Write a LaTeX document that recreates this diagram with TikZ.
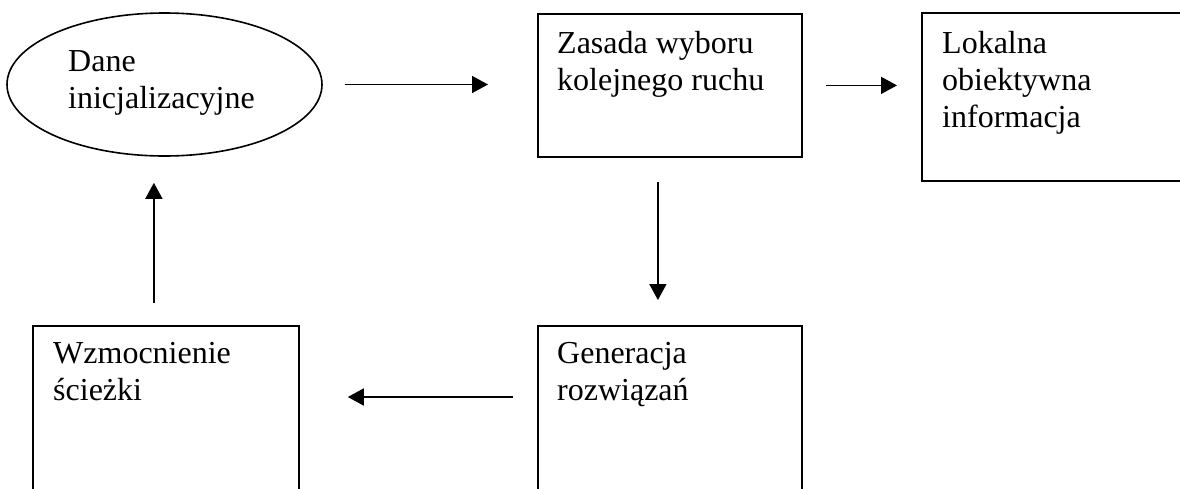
\documentclass[tikz,border=0pt]{standalone}
\usepackage{fontspec}
\setmainfont{Liberation Serif}
\usetikzlibrary{arrows.meta,shapes.geometric}
\begin{document}
\begin{tikzpicture}[x=1pt,y=-1pt,
  boxnode/.style={draw,line width=1.8pt,inner sep=0pt,anchor=north west},
  txt/.style={inner sep=0pt,anchor=north west,align=left,font=\fontsize{32}{37}\selectfont},
  arr/.style={line width=1.6pt,-{Triangle[length=16pt,width=17pt]}}]
\useasboundingbox (0,0) rectangle (1180,488);
\clip (0,0) rectangle (1180,488);
\fill[white] (0,0) rectangle (1180,488);
% shapes
\node[draw,line width=1.6pt,ellipse,inner sep=0pt,minimum width=315pt,minimum height=143pt] (dane) at (164.5,84.5) {};
\node[boxnode,minimum width=264pt,minimum height=143pt] (zasada) at (537,13) {};
\node[boxnode,minimum width=300pt,minimum height=168pt] (lokalna) at (921,12) {};
\node[boxnode,minimum width=264pt,minimum height=220pt] (generacja) at (537,325) {};
\node[boxnode,minimum width=266pt,minimum height=220pt] (wzm) at (32,325) {};
% texts
\node[txt] (daneT) at (68,50) {Dane\\inicjalizacyjne};
\node[txt] (zasadaT) at (557,31) {Zasada wyboru\\kolejnego ruchu};
\node[txt] (lokalnaT) at (942,31) {Lokalna\\obiektywna\\informacja};
\node[txt] (generacjaT) at (557,342.5) {Generacja\\rozwiązań};
\node[txt] (wzmT) at (53,342) {Wzmocnienie\\ścieżki};
% connectors
\draw[arr,shorten <=22pt,shorten >=49pt] (dane.east) -- (dane.east -| zasada.west);
\draw[arr,shorten <=23pt,shorten >=24pt] (zasada.east) -- (zasada.east -| lokalna.west);
\draw[arr,shorten <=24pt,shorten >=25pt] ([xshift=-12pt]zasada.south) -- ([xshift=-12pt]zasada.south |- generacja.north);
\draw[arr,shorten <=24pt,shorten >=48pt] ([yshift=-72pt]generacja.north west) -- ([yshift=-72pt]wzm.north east);
\draw[arr,shorten <=22pt,shorten >=26pt] ([xshift=-12pt]wzm.north) -- ([xshift=-12pt]wzm.north |- dane.south);
\end{tikzpicture}
\end{document}
